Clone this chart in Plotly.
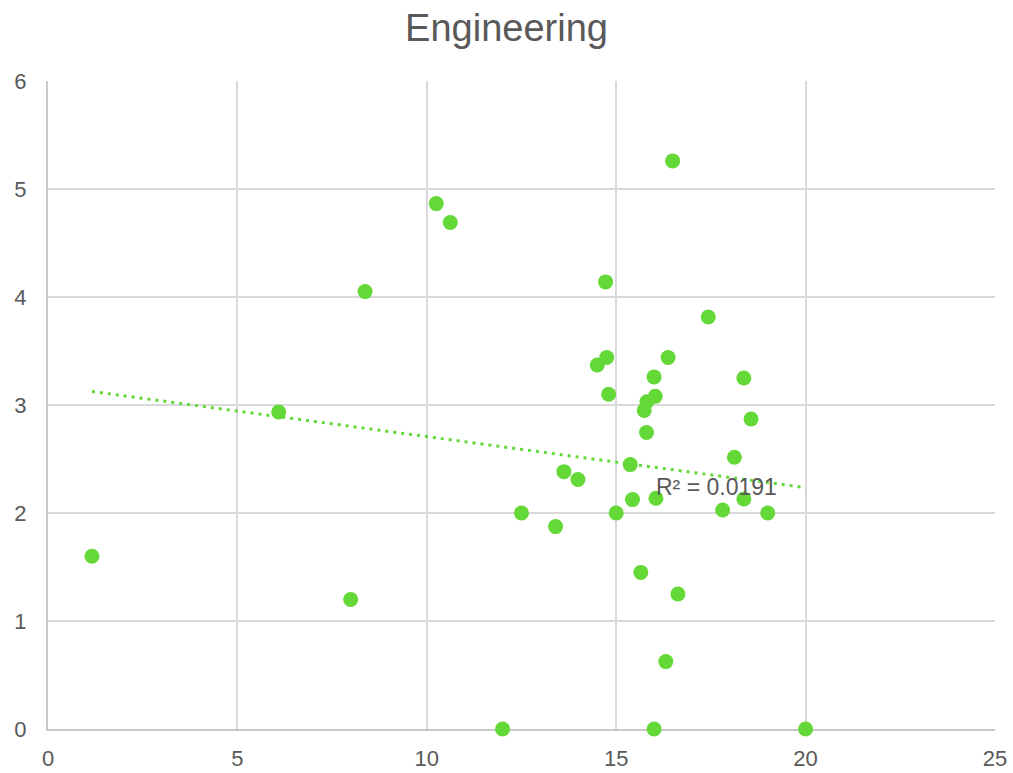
import plotly.graph_objects as go

# Data
x_vals = [1.16, 6.09, 7.99, 8.37, 10.25, 10.62, 16.49, 14.72, 17.43, 14.75,
          14.5, 16.37, 16.0, 18.37, 14.8, 16.03, 15.81, 15.74, 18.56, 15.8,
          18.12, 15.37, 13.62, 13.99, 15.43, 16.05, 18.37, 17.81, 19.0, 12.5,
          15.0, 13.4, 15.65, 16.63, 16.31, 12.0, 16.0, 20.0]
y_vals = [1.60, 2.935, 1.20, 4.05, 4.865, 4.69, 5.26, 4.14, 3.815, 3.44,
          3.37, 3.44, 3.26, 3.25, 3.10, 3.08, 3.03, 2.95, 2.87, 2.745,
          2.516, 2.448, 2.383, 2.31, 2.124, 2.136, 2.13, 2.028, 2.0, 2.0,
          2.0, 1.874, 1.45, 1.25, 0.624, 0.0, 0.0, 0.0]
# Linear trendline endpoints
trend_x = [1.16, 20.0]
trend_y = [3.125, 2.235]
title_text = "Engineering"
r2_label = "R² = 0.0191"
x_ticks = [0, 5, 10, 15, 20, 25]
y_ticks = [0, 1, 2, 3, 4, 5, 6]

GREEN = "#63d836"
GRAY_TXT = "#595959"
GRID = "#d9d9d9"
FONT = "Liberation Sans, Arial"

W, H = 1013, 773

fig = go.Figure()
fig.add_trace(go.Scatter(
    x=trend_x, y=trend_y, mode="lines",
    line=dict(color=GREEN, width=3, dash="3px,5px"),
    hoverinfo="skip", showlegend=False,
))
fig.add_trace(go.Scatter(
    x=x_vals, y=y_vals, mode="markers",
    marker=dict(color=GREEN, size=15, line=dict(width=0)),
    cliponaxis=False, showlegend=False,
))

fig.add_annotation(
    x=17.66, y=2.24, xref="x", yref="y", text=r2_label, showarrow=False,
    font=dict(family=FONT, size=23, color=GRAY_TXT),
    xanchor="center", yanchor="middle",
)

fig.update_layout(
    width=W, height=H,
    margin=dict(l=48, r=18, t=81, b=44, autoexpand=False),
    paper_bgcolor="white", plot_bgcolor="white",
    font=dict(family=FONT, size=22, color=GRAY_TXT),
    title=dict(text=title_text, x=0.5, xanchor="center",
               y=1 - 28 / H, yanchor="middle", yref="container",
               font=dict(family=FONT, size=38, color=GRAY_TXT)),
    showlegend=False,
)
fig.update_xaxes(
    range=[0, 25], tickvals=x_ticks, showgrid=True, gridcolor=GRID, gridwidth=2,
    zeroline=False, showline=True, linecolor="#c8c8c8", linewidth=2,
    ticks="", ticklabelstandoff=9, tickfont=dict(family=FONT, size=22, color=GRAY_TXT),
    automargin=False, layer="below traces",
)
fig.update_yaxes(
    range=[0, 6], tickvals=y_ticks, showgrid=True, gridcolor=GRID, gridwidth=2,
    zeroline=False, showline=True, linecolor="#c8c8c8", linewidth=2,
    ticks="", ticklabelstandoff=15, tickfont=dict(family=FONT, size=22, color=GRAY_TXT),
    automargin=False, layer="below traces",
)

# Remove the default page margin so the figure fills the window exactly.
fig.write_html(
    "out.html",
    config={"displayModeBar": False},
    post_script="document.body.style.margin='0';document.body.style.overflow='hidden';",
)
